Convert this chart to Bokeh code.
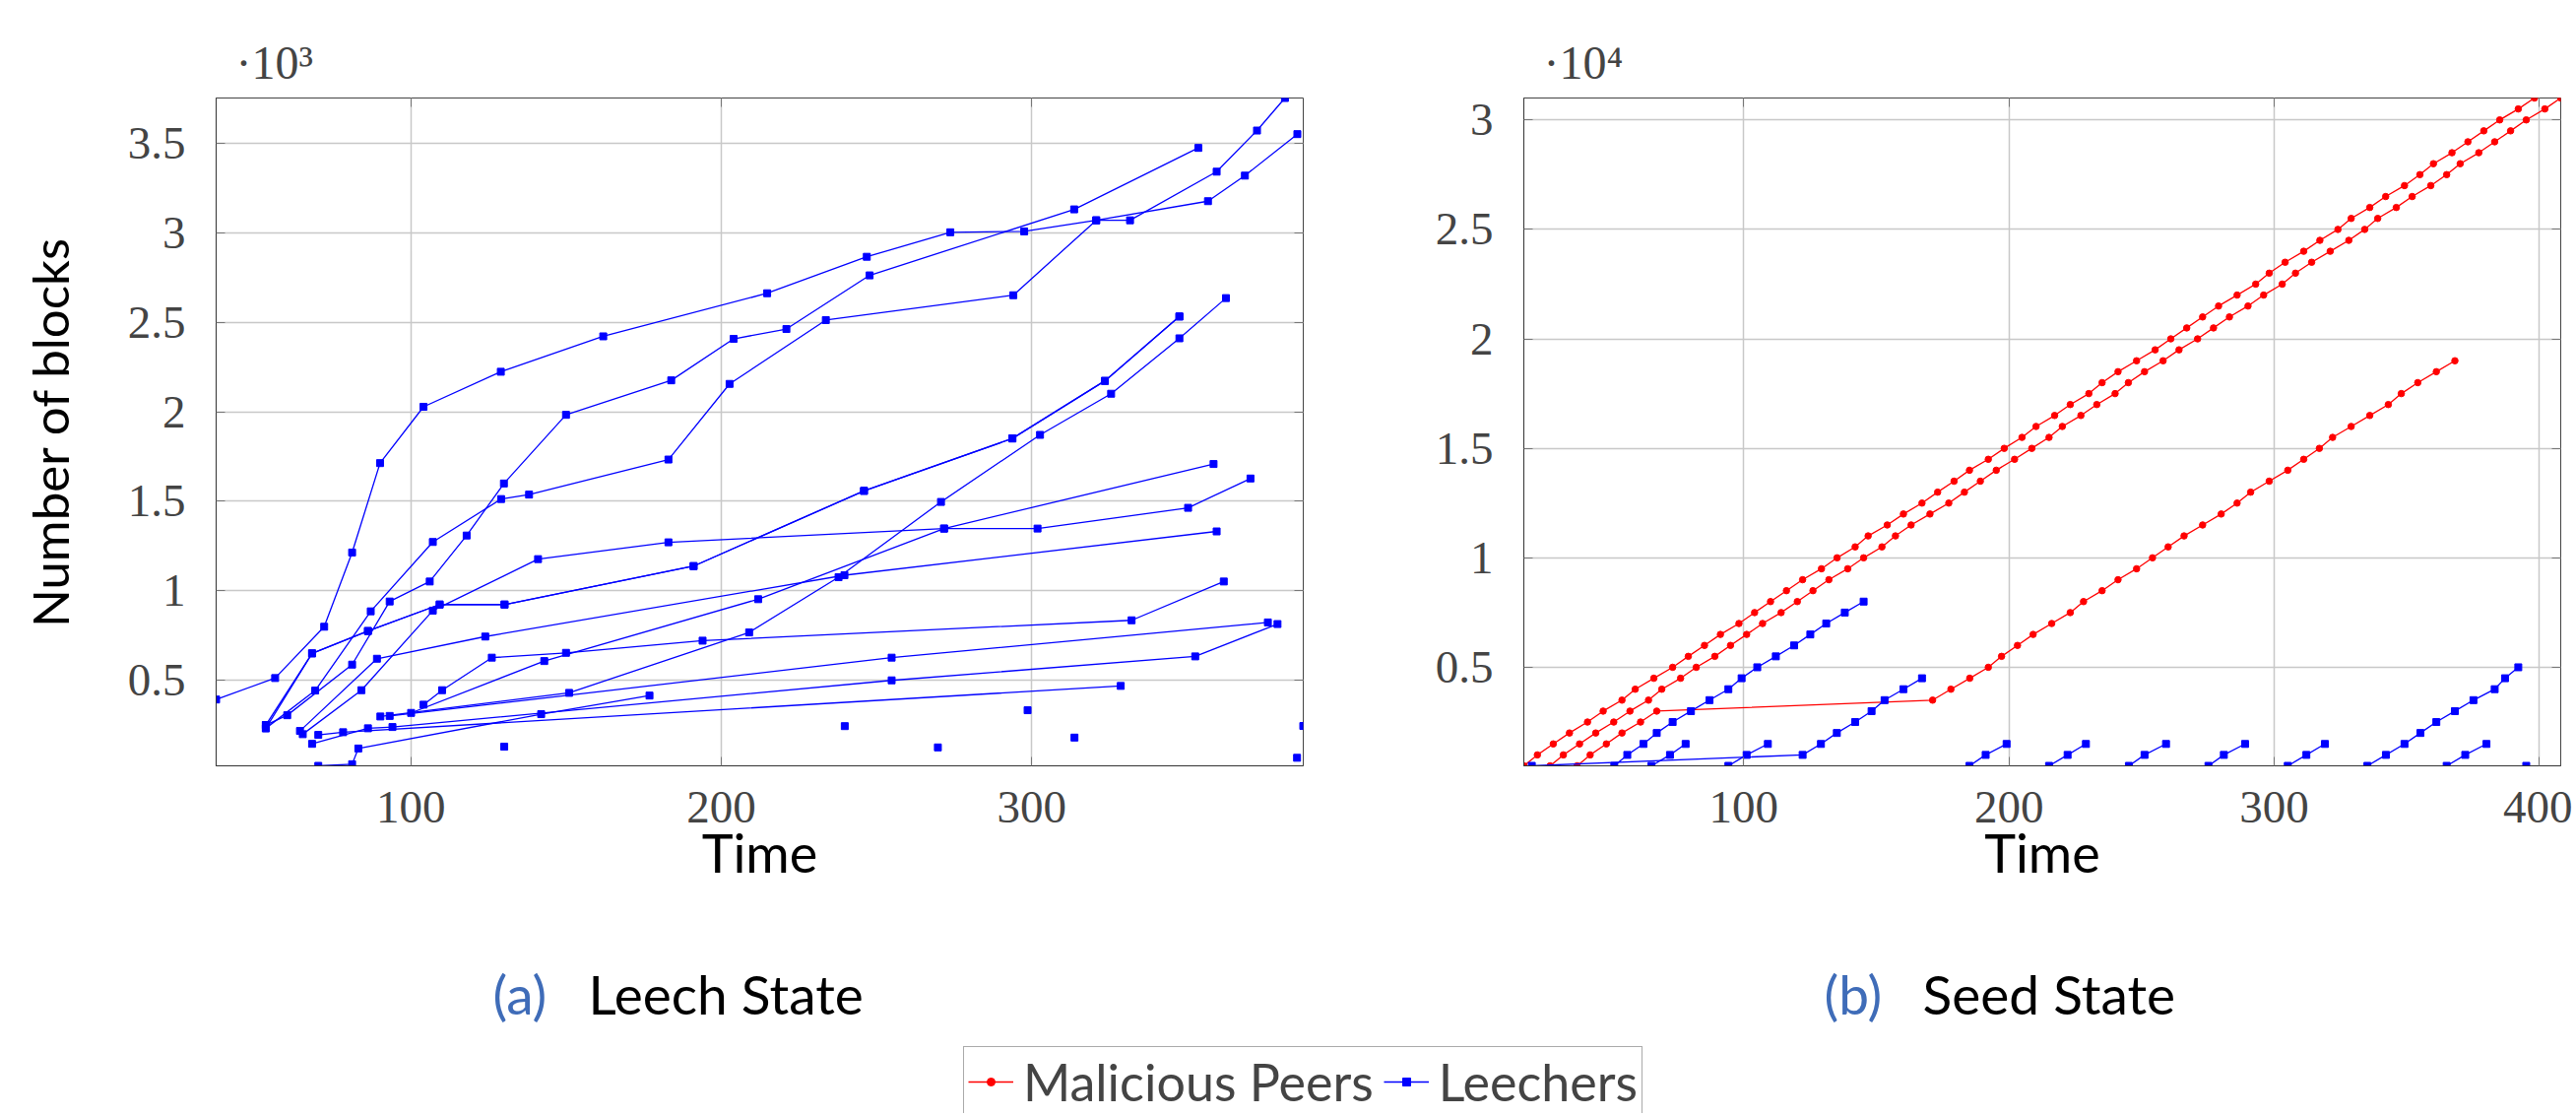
from bokeh.plotting import figure
from bokeh.models import (Range1d, FixedTicker, CustomJSTickFormatter, Label,
                          Legend, LegendItem, LinearAxis)
from bokeh.layouts import column, row
from bokeh.embed import file_html
from bokeh.resources import INLINE

# ---------------- (a) Leech State : leechers ----------------
a_A_t = [37.3, 56.3, 72.1, 81.1, 90.1, 104.1, 129.0, 162.0, 214.8, 246.9, 273.8, 297.6, 320.8, 331.7, 359.6, 372.6, 381.6]
a_A_b = [391, 511, 798, 1213, 1713, 2028, 2224, 2422, 2663, 2867, 3004, 3009, 3071, 3071, 3343, 3573, 3755]
a_B_t = [53.3, 60.2, 81.1, 93.2, 106.1, 118.0, 130.0, 150.0, 183.9, 204.0, 221.0, 247.8, 313.7, 353.7]
a_B_b = [248, 303, 586, 939, 1051, 1308, 1599, 1983, 2176, 2408, 2463, 2763, 3132, 3476]
a_C_t = [53.3, 69.2, 87.1, 107.1, 129.1, 138.1, 183.0, 202.7, 233.7, 294.1, 320.8, 356.8, 368.7, 385.6]
a_C_b = [230, 441, 884, 1272, 1512, 1537, 1733, 2156, 2513, 2652, 3071, 3178, 3321, 3553]
a_D_t = [53.3, 68.2, 86.2, 109.3, 130.2, 191.1, 246.0, 293.8, 323.6, 347.6]
a_D_b = [248, 649, 774, 922, 922, 1137, 1558, 1851, 2173, 2533]
a_D2_t = [53.3, 68.2, 86.2, 109.3, 130.2, 191.1, 246.0, 293.8, 323.6, 347.6]
a_D2_b = [230, 649, 774, 922, 922, 1137, 1558, 1851, 2173, 2533]
a_E_t = [65.2, 84.1, 107.1, 141.0, 183.0, 271.8, 301.9, 350.4, 370.5]
a_E_b = [197, 443, 888, 1176, 1270, 1347, 1347, 1463, 1627]
a_F_t = [64.3, 89.1, 124.0, 239.7, 359.6]
a_F_b = [215, 619, 743, 1086, 1331]
a_G_t = [100.1, 143.0, 211.9, 271.8, 358.6]
a_G_b = [316, 606, 952, 1347, 1708]
a_H_t = [104.1, 110.1, 126.1, 150.0, 194.0, 332.2, 361.9]
a_H_b = [362, 443, 625, 652, 720, 834, 1051]
a_I_t = [90.2, 151.0, 209.0, 237.8, 270.8, 302.7, 325.6, 347.6, 362.6]
a_I_b = [296, 428, 766, 1075, 1496, 1871, 2101, 2411, 2636]
a_J_t = [93.2, 254.9, 376.1]
a_J_b = [299, 625, 822]
a_K_t = [68.2, 86.2, 94.1, 254.9, 352.7, 379.2]
a_K_b = [143, 230, 237, 498, 632, 813]
a_M_t = [70.2, 78.2, 328.7]
a_M_b = [193, 208, 467]
a_N_t = [70.2, 81.1, 83.1, 142.0, 176.9]
a_N_b = [20, 29, 117, 309, 413]
a_single_t = [130.1, 239.8, 269.8, 298.7, 313.8, 387.5, 385.5]
a_single_b = [127, 242, 123, 331, 178, 243, 65]

# ---------------- (b) Seed State ----------------
b_red1_t = [17.1, 22.2, 28.2, 34.3, 41.1, 47.0, 54.1, 59.1, 66.1, 73.2, 79.1, 85.2, 91.2, 98.2, 104.1,
            110.1, 116.1, 122.2, 129.3, 135.2, 142.0, 146.9, 154.1, 160.2, 167.2, 173.1, 179.3, 185.1,
            192.2, 198.2, 204.9, 210.2, 217.2, 223.1, 230.1, 235.1, 241.1, 248.1, 255.1, 261.0, 267.0,
            273.0, 279.0, 286.0, 293.0, 298.1, 304.1, 311.1, 317.2, 324.0, 329.0, 336.0, 342.0, 349.1,
            354.9, 360.0, 367.0, 373.0, 379.0, 385.0, 392.0, 398.1]
b_red1_b = [500, 1000, 1500, 2000, 2500, 3000, 3500, 4000, 4500, 5000, 5500, 6000, 6500, 7000, 7500,
            8000, 8500, 9000, 9500, 10000, 10500, 11000, 11500, 12000, 12500, 13000, 13500, 14000,
            14500, 15000, 15500, 16000, 16500, 17000, 17500, 18000, 18500, 19000, 19500, 20000, 20500,
            21000, 21500, 22000, 22500, 23000, 23500, 24000, 24500, 25000, 25500, 26000, 26500, 27000,
            27500, 28000, 28500, 29000, 29500, 30000, 30500, 31000]
b_red2_t = [27.0, 32.0, 38.1, 44.2, 51.0, 57.1, 64.1, 69.1, 76.2, 82.1, 89.1, 95.0, 101.1, 107.1, 114.1,
            120.2, 126.1, 132.1, 139.2, 145.2, 152.1, 157.2, 163.1, 170.2, 177.3, 183.2, 189.2, 195.2,
            202.1, 208.6, 215.1, 220.1, 227.1, 233.1, 240.0, 245.0, 251.1, 258.1, 264.1, 271.1, 277.1,
            283.1, 290.1, 296.0, 303.0, 308.0, 314.1, 321.1, 328.1, 334.1, 339.0, 346.0, 352.0, 359.0,
            365.0, 370.1, 377.1, 383.1, 389.1, 395.0, 402.0, 408.0]
b_red2_b = [500, 1000, 1500, 2000, 2500, 3000, 3500, 4000, 4500, 5000, 5500, 6000, 6500, 7000, 7500,
            8000, 8500, 9000, 9500, 10000, 10500, 11000, 11500, 12000, 12500, 13000, 13500, 14000,
            14500, 15000, 15500, 16000, 16500, 17000, 17500, 18000, 18500, 19000, 19500, 20000, 20500,
            21000, 21500, 22000, 22500, 23000, 23500, 24000, 24500, 25000, 25500, 26000, 26500, 27000,
            27500, 28000, 28500, 29000, 29500, 30000, 30500, 31000]
b_red3_t = [37.2, 42.1, 48.2, 54.1, 61.1, 67.2, 171.2, 178.1, 185.2, 192.2, 197.2, 203.2, 209.1, 216.1,
            223.1, 228.1, 235.1, 241.1, 248.1, 254.1, 260.0, 266.0, 273.0, 280.0, 286.0, 291.1, 298.1,
            305.1, 311.1, 317.0, 322.0, 329.0, 336.0, 343.0, 347.9, 354.1, 361.1, 368.1]
b_red3_b = [500, 1000, 1500, 2000, 2500, 3000, 3500, 4000, 4500, 5000, 5500, 6000, 6500, 7000,
            7500, 8000, 8500, 9000, 9500, 10000, 10500, 11000, 11500, 12000, 12500, 13000, 13500,
            14000, 14500, 15000, 15500, 16000, 16500, 17000, 17500, 18000, 18500, 19000]
b_bl1_t = [51.2, 56.1, 62.2, 67.2, 73.2, 80.1, 87.1, 94.2, 99.2, 105.1, 112.1, 119.0, 125.1, 131.1, 138.1, 145.2]
b_bl1_b = [500, 1000, 1500, 2000, 2500, 3000, 3500, 4000, 4500, 5000, 5500, 6000, 6500, 7000, 7500, 8000]
b_bl2_t = [20.1, 122.2, 129.1, 135.1, 142.0, 148.2, 153.1, 160.2, 167.2]
b_bl2_b = [500, 1000, 1500, 2000, 2500, 3000, 3500, 4000, 4500]
b_bl3_t = [65.2, 72.2, 78.1]
b_bl3_b = [500, 1000, 1500]
b_bl4_t = [94.2, 101.1, 109.1]
b_bl4_b = [500, 1000, 1500]
b_bl5_t = [185.1, 191.2, 199.1]
b_bl5_b = [500, 1000, 1500]
b_bl6_t = [215.1, 222.1, 229.0]
b_bl6_b = [500, 1000, 1500]
b_bl7_t = [245.2, 251.1, 259.2]
b_bl7_b = [500, 1000, 1500]
b_bl8_t = [275.2, 281.0, 289.0]
b_bl8_b = [500, 1000, 1500]
b_bl9_t = [305.1, 312.1, 319.1]
b_bl9_b = [500, 1000, 1500]
b_bl10_t = [335.1, 342.1, 349.1, 355.1, 361.1, 368.1, 375.1, 383.1, 387.0, 392.0]
b_bl10_b = [500, 1000, 1500, 2000, 2500, 3000, 3500, 4000, 4500, 5000]
b_bl11_t = [365.0, 372.0, 380.0]
b_bl11_b = [500, 1000, 1500]
b_bl12_t = [395.0]
b_bl12_b = [500]

a_xticks = [100, 200, 300]
a_yticks = [500, 1000, 1500, 2000, 2500, 3000, 3500]
b_xticks = [100, 200, 300, 400]
b_yticks = [5000, 10000, 15000, 20000, 25000, 30000]

BLUE = "#0000ff"
RED = "#ff0000"
SERIF = "Liberation Serif"
SANS = "Lato"
CAPBLUE = "#3f6cb8"

leech_a = [(a_A_t, a_A_b), (a_B_t, a_B_b), (a_C_t, a_C_b), (a_D_t, a_D_b), (a_D2_t, a_D2_b),
           (a_E_t, a_E_b), (a_F_t, a_F_b), (a_G_t, a_G_b), (a_H_t, a_H_b), (a_I_t, a_I_b),
           (a_J_t, a_J_b), (a_K_t, a_K_b), (a_M_t, a_M_b), (a_N_t, a_N_b)]
red_b = [(b_red1_t, b_red1_b), (b_red2_t, b_red2_b), (b_red3_t, b_red3_b)]
leech_b = [(b_bl1_t, b_bl1_b), (b_bl2_t, b_bl2_b), (b_bl3_t, b_bl3_b), (b_bl4_t, b_bl4_b),
           (b_bl5_t, b_bl5_b), (b_bl6_t, b_bl6_b), (b_bl7_t, b_bl7_b), (b_bl8_t, b_bl8_b),
           (b_bl9_t, b_bl9_b), (b_bl10_t, b_bl10_b), (b_bl11_t, b_bl11_b), (b_bl12_t, b_bl12_b)]

PANEL_H = 960
TOTAL_H = 1130
TOP = 99
FRAME_H = 678


def data_range(series):
    xs = [v for s in series for v in s[0]]
    ys = [v for s in series for v in s[1]]
    return Range1d(min(xs), max(xs)), Range1d(min(ys), max(ys))


def mirror_axis(p, ticks, side):
    ax = LinearAxis(ticker=FixedTicker(ticks=ticks),
                    formatter=CustomJSTickFormatter(code="return '';"),
                    major_tick_in=9, major_tick_out=0, minor_tick_in=0, minor_tick_out=0,
                    major_label_standoff=0, axis_line_color=None,
                    major_tick_line_color="#777777", major_label_text_font_size="1px")
    p.add_layout(ax, side)


def make_panel(series_all, width, border_left, border_right, xticks, yticks, ydiv, ylabel, scale_txt):
    xr, yr = data_range(series_all)
    p = figure(width=width, height=PANEL_H, x_range=xr, y_range=yr,
               output_backend="svg", toolbar_location=None,
               min_border_left=border_left, min_border_right=border_right,
               min_border_top=TOP, min_border_bottom=PANEL_H - TOP - FRAME_H)
    p.title.text = scale_txt
    p.title.text_font = SERIF
    p.title.text_font_size = "48px"
    p.title.text_font_style = "normal"
    p.title.align = "left"
    p.title.offset = 20
    p.title.standoff = 19
    p.xaxis.ticker = FixedTicker(ticks=xticks)
    p.yaxis.ticker = FixedTicker(ticks=yticks)
    p.yaxis.formatter = CustomJSTickFormatter(code="return String(tick/%d);" % ydiv)
    for ax in (p.xaxis[0], p.yaxis[0]):
        ax.major_label_text_font = SERIF
        ax.major_label_text_font_size = "47px"
        ax.major_tick_in = 9
        ax.major_tick_out = 0
        ax.minor_tick_in = 0
        ax.minor_tick_out = 0
        ax.axis_line_color = "#333333"
        ax.major_tick_line_color = "#777777"
        ax.axis_label_text_font = SANS
        ax.axis_label_text_font_style = "normal"
        ax.axis_label_text_color = "black"
    p.xaxis.axis_label_text_font_size = "54px"
    p.yaxis.axis_label_text_font_size = "51px"
    p.xaxis.major_label_standoff = 26
    p.yaxis.major_label_standoff = 31
    p.xaxis.axis_label = "Time"
    p.xaxis.axis_label_standoff = -5
    if ylabel:
        p.yaxis.axis_label = ylabel
        p.yaxis.axis_label_standoff = 46
    mirror_axis(p, xticks, "above")
    mirror_axis(p, yticks, "right")
    p.grid.grid_line_color = "#c8c8c8"
    p.grid.grid_line_width = 1.5
    p.outline_line_color = "#444444"
    p.background_fill_color = "white"
    return p


# ---- panel (a)
all_a = leech_a + [(a_single_t, a_single_b)]
p1 = make_panel(all_a, 1336, 219, 13, a_xticks, a_yticks, 1000, "Number of blocks", "·10³")
for t, b in leech_a:
    p1.line(t, b, color=BLUE, line_width=1.3)
    p1.scatter(t, b, marker="square", size=7, color=BLUE)
p1.scatter(a_single_t, a_single_b, marker="square", size=7, color=BLUE)

# ---- panel (b)
all_b = red_b + leech_b
p2 = make_panel(all_b, 1276, 211, 12, b_xticks, b_yticks, 10000, None, "·10⁴")
for t, b in red_b:
    p2.line(t, b, color=RED, line_width=1.3)
    p2.scatter(t, b, marker="circle", size=6.5, color=RED)
for t, b in leech_b:
    p2.line(t, b, color=BLUE, line_width=1.3)
    p2.scatter(t, b, marker="square", size=7, color=BLUE)

# ---- caption + legend strip
STRIP_H = TOTAL_H - PANEL_H
p3 = figure(width=2612, height=STRIP_H, x_range=Range1d(0, 1), y_range=Range1d(0, 1),
            output_backend="svg", toolbar_location=None,
            x_axis_location=None, y_axis_location=None, min_border=0)
p3.grid.visible = False
p3.outline_line_color = None
cap_y = TOTAL_H - 1023 + 15
for x, txt, col in [(500, "(a)", CAPBLUE), (597, "Leech State", "black"),
                    (1852, "(b)", CAPBLUE), (1952, "Seed State", "black")]:
    p3.add_layout(Label(x=x, y=cap_y, x_units="screen", y_units="screen", text=txt,
                        text_font=SANS, text_font_size="55px", text_color=col,
                        text_baseline="alphabetic"))
# legend proxies: the real series, drawn outside this strip's (0..1) ranges
r1 = p3.line(b_red1_t, b_red1_b, color=RED, line_width=1.3)
r2 = p3.scatter(b_red1_t, b_red1_b, marker="circle", size=8, color=RED)
q1 = p3.line(b_bl1_t, b_bl1_b, color=BLUE, line_width=1.3)
q2 = p3.scatter(b_bl1_t, b_bl1_b, marker="square", size=8, color=BLUE)
legend = Legend(items=[LegendItem(label="Malicious Peers", renderers=[r1, r2]),
                       LegendItem(label="Leechers", renderers=[q1, q2])],
                orientation="horizontal", location=(978, -4),
                label_text_font=SANS, label_text_font_size="52px",
                glyph_width=46, glyph_height=20, label_standoff=10, spacing=10,
                padding=4, margin=0, border_line_color="#555555", border_line_width=1.5)
p3.add_layout(legend)

layout = column(row(p1, p2), p3)
open("out.html", "w").write(file_html(layout, INLINE))
